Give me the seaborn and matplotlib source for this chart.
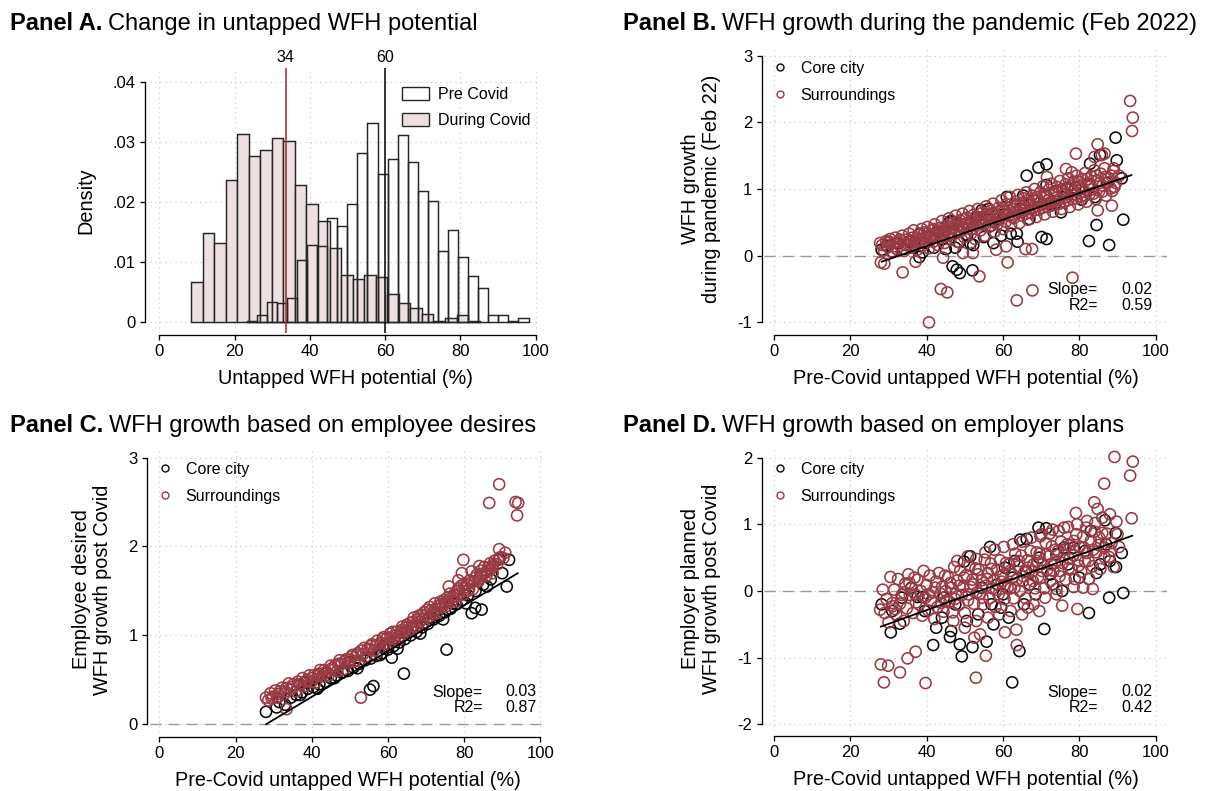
import numpy as np
import pandas as pd
import matplotlib
matplotlib.use("Agg")
import matplotlib.pyplot as plt
import seaborn as sns
from matplotlib.patches import Patch
from matplotlib.lines import Line2D

# ---------------- DATA ----------------
# Panel A: histogram bins (density)
during_start = 8.42
during_width = 3.068
during_heights = [0.0067, 0.0148, 0.0132, 0.0237, 0.0314, 0.0277, 0.0286, 0.0306, 0.0302,
                  0.0228, 0.0196, 0.0168, 0.0124, 0.0079, 0.0071, 0.0079, 0.0075, 0.0047,
                  0.0031, 0.0023, 0.0014, 0.0001, 0.0006, 0.0011, 0.0002]
pre_start = 23.2
pre_width = 2.675
pre_heights = [0.0001, 0.0011, 0.0034, 0.0031, 0.0040, 0.0104, 0.0128, 0.0126, 0.0173,
               0.0160, 0.0197, 0.0281, 0.0332, 0.0247, 0.0271, 0.0312, 0.0266, 0.0219,
               0.0201, 0.0118, 0.0154, 0.0108, 0.0076, 0.0057, 0.0011, 0.0011, 0.0001, 0.0007]
median_during = 33.6
median_pre = 60.0
median_labels = ["34", "60"]
hist_labels = ["Pre Covid", "During Covid"]

group_labels = ["Core city", "Surroundings"]

# Panel B: WFH growth during pandemic (Feb 22)
b_core = [(28.2,0.09),(29.5,0.15),(31.0,0.06),(32.5,0.18),(34.0,0.10),(35.3,0.21),(36.8,0.14),
          (38.1,-0.02),(38.9,0.05),(38.2,0.33),(39.6,0.19),(40.8,0.27),(41.9,0.12),(43.0,0.36),
          (44.2,0.25),(45.0,0.10),(45.7,0.49),(46.3,0.52),(46.9,0.51),(46.8,-0.16),(47.9,-0.21),
          (48.7,-0.26),(47.5,0.12),(48.5,0.20),(49.5,0.42),(50.6,0.31),(51.5,0.18),(52.0,-0.22),
          (52.2,0.16),(53.2,0.58),(54.4,0.68),(55.0,0.28),(56.2,0.70),(56.8,0.45),(57.5,0.19),
          (58.4,0.55),(59.5,0.30),(60.2,0.62),(61.0,0.88),(62.0,0.33),(63.6,0.33),(63.8,0.21),
          (64.5,0.70),(65.3,0.90),(66.2,1.20),(66.9,0.55),(68.0,0.83),(69.3,1.32),(70.1,0.28),
          (71.4,0.25),(71.4,1.37),(71.4,1.06),(72.6,0.78),(73.9,0.97),(75.2,0.65),(76.8,1.02),
          (78.9,1.02),(80.6,0.84),(82.4,1.06),(82.5,0.22),(82.8,1.38),(84.1,0.88),(84.5,0.46),
          (85.4,1.51),(87.2,1.09),(87.8,0.16),(89.5,1.77),(89.8,1.43),(91.1,1.16),(91.5,0.54)]
b_sur = [(28.3,0.16),(28.8,0.08),(29.4,0.22),(29.9,0.13),(30.4,0.25),(30.7,0.06),(31.3,0.19),
         (31.8,0.27),(32.2,0.10),(32.7,0.21),(33.2,0.15),(33.6,0.30),(34.1,0.07),(34.5,0.24),
         (35.0,0.18),(35.4,0.33),(35.9,0.12),(36.3,0.27),(36.6,0.38),(37.0,0.20),(37.5,0.09),
         (37.8,0.31),(38.3,0.24),(38.7,0.40),(39.0,0.15),(39.5,0.35),(39.8,0.28),(40.2,0.43),
         (40.6,0.11),(41.0,0.30),(41.4,0.38),(41.7,0.21),(42.1,0.47),(42.5,0.33),(42.9,0.16),
         (43.2,0.41),(43.6,0.27),(44.0,0.52),(44.3,0.36),(44.7,0.19),(45.1,0.45),(45.4,0.30),
         (45.8,0.56),(46.2,0.24),(46.5,0.40),(46.9,0.49),(47.3,0.33),(47.6,0.60),(48.0,0.21),
         (48.3,0.44),(48.7,0.53),(49.0,0.37),(49.4,0.63),(49.8,0.28),(50.1,0.48),(50.5,0.57),
         (50.8,0.41),(51.2,0.67),(51.6,0.33),(51.9,0.51),(52.3,0.61),(52.7,0.25),(53.0,0.45),
         (53.4,0.70),(53.8,0.55),(54.1,0.38),(54.5,0.64),(54.8,0.49),(55.2,0.30),(55.6,0.74),
         (55.9,0.58),(56.3,0.43),(56.7,0.67),(57.0,0.52),(57.4,0.78),(57.8,0.36),(58.1,0.61),
         (58.5,0.47),(58.9,0.72),(59.2,0.56),(59.6,0.83),(60.0,0.40),(60.3,0.66),(60.7,0.51),
         (61.0,0.77),(61.4,0.60),(61.8,0.88),(62.1,0.45),(62.5,0.70),(62.8,0.56),(63.2,0.81),
         (63.6,0.64),(63.9,0.91),(64.3,0.49),(64.6,0.74),(65.0,0.60),(65.4,0.86),(65.7,0.68),
         (66.1,0.95),(66.5,0.54),(66.8,0.79),(67.2,0.64),(67.6,0.90),(67.9,0.72),(68.3,1.00),
         (68.7,0.58),(69.0,0.83),(69.4,0.69),(69.8,0.95),(70.1,0.76),(70.5,1.04),(70.9,0.62),
         (71.2,0.88),(71.6,0.73),(72.0,0.99),(72.3,0.80),(72.7,1.08),(73.1,0.66),(73.4,0.92),
         (73.8,0.77),(74.2,1.03),(74.5,0.84),(74.9,1.12),(75.3,0.70),(75.6,0.96),(76.0,0.81),
         (76.4,1.07),(76.7,0.88),(77.1,1.16),(77.5,0.73),(77.8,1.00),(78.2,0.85),(78.6,1.11),
         (78.9,0.92),(79.3,1.20),(79.7,0.77),(80.0,1.04),(80.4,0.89),(80.8,1.15),(81.1,0.96),
         (81.5,1.24),(81.9,0.81),(82.3,1.08),(82.7,0.93),(83.1,1.19),(83.5,1.00),(83.9,1.28),
         (84.3,0.85),(84.7,1.12),(85.2,0.97),(85.6,1.23),(86.1,1.05),(86.6,1.31),(87.0,0.90),
         (87.6,1.16),(88.2,1.01),(88.9,1.27),(89.6,1.09),(90.4,1.20),
         (27.8,0.19),(28.0,-0.10),(28.9,-0.12),(29.9,0.19),(33.7,-0.25),(37.1,-0.09),(40.6,-1.00),
         (43.7,-0.50),(45.4,-0.55),(44.3,-0.03),(49.5,0.04),(52.1,0.04),(53.8,-0.31),(58.2,0.09),
         (60.8,0.14),(61.2,-0.10),(63.6,-0.67),(65.9,0.10),(67.6,0.10),(67.7,-0.52),(78.2,-0.33),
         (79.1,1.53),(84.0,1.48),(84.8,1.67),(84.8,0.68),(85.9,1.51),(86.6,1.53),(88.5,0.75),
         (88.6,0.97),(89.2,1.03),(89.0,1.31),(76.5,1.30),(78.0,1.25),(71.5,1.18),(93.3,2.32),
         (94.0,2.07),(93.8,1.87)]
b_sur_more = [(38.0,0.19),(39.3,0.26),(40.0,0.33),(41.0,0.24),(41.8,0.40),(42.6,0.29),(43.4,0.35),
              (44.1,0.30),(44.9,0.38),(45.6,0.43),(46.3,0.34),(47.0,0.42),(47.8,0.50),(48.5,0.38),
              (49.2,0.47),(49.9,0.55),(50.6,0.45),(51.4,0.52),(52.0,0.40),(52.8,0.58),(53.6,0.50),
              (54.3,0.57),(55.0,0.47),(55.7,0.62),(56.5,0.55),(57.2,0.63),(57.9,0.50),(58.7,0.66),
              (59.4,0.58),(60.1,0.71),(60.9,0.62),(61.6,0.68),(62.4,0.58),(63.1,0.75),(63.8,0.67),
              (64.6,0.79),(65.3,0.70),(66.0,0.63),(66.7,0.84),(67.5,0.76),(68.2,0.68),(68.9,0.88),
              (69.7,0.80),(70.4,0.72),(71.1,0.92),(71.9,0.83),(72.6,0.75),(73.3,0.96),(74.1,0.87),
              (74.8,0.78),(75.5,1.00),(76.3,0.92),(77.0,0.83),(77.7,1.05),(78.5,0.97),(79.2,0.86),
              (80.0,1.10),(80.7,1.01),(81.5,0.90),(82.2,1.15),(83.0,1.05),(83.7,0.93),(84.5,1.20),
              (85.3,1.09),(86.0,0.96),(86.8,1.18),(87.6,1.10),(88.4,1.20),(30.0,0.21),(31.5,0.14),
              (33.0,0.24),(34.6,0.16),(36.1,0.22),(37.3,0.17)]
b_fit_x = [28.2, 93.7]
b_fit_y = [-0.09, 1.21]
b_stats = ["0.02", "0.59"]

# Panel C: employee desired WFH growth post Covid
c_core = [(28.0,0.14),(30.8,0.19),(31.5,0.25),(33.0,0.22),(34.5,0.30),(36.0,0.33),(37.5,0.36),
          (38.0,0.47),(39.0,0.40),(40.5,0.42),(42.0,0.45),(43.5,0.48),(44.0,0.58),(45.0,0.52),
          (46.5,0.55),(48.0,0.58),(49.5,0.60),(50.0,0.70),(51.0,0.64),(52.5,0.68),(54.0,0.72),
          (55.3,0.39),(56.2,0.43),(55.5,0.74),(57.0,0.77),(58.5,0.80),(59.0,0.88),(60.0,0.84),
          (61.5,0.88),(61.0,0.75),(63.0,0.92),(64.2,0.57),(64.5,0.96),(65.0,1.05),(66.0,1.00),
          (67.5,1.04),(69.0,1.09),(70.5,1.13),(71.0,1.20),(72.0,1.18),(73.5,1.22),(75.0,1.26),
          (75.4,0.84),(76.5,1.30),(77.0,1.36),(78.0,1.35),(79.5,1.40),(81.0,1.45),(82.0,1.25),
          (82.9,1.31),(84.6,1.29),(83.0,1.50),(85.0,1.57),(87.0,1.63),(89.2,1.86),(91.8,1.85),
          (91.2,1.55),(90.0,1.70),(46.0,0.52),(52.0,0.63),(58.0,0.78),(62.5,0.85),(68.5,1.02),
          (74.5,1.18),(80.5,1.36),(86.0,1.55),(37.0,0.33),(41.5,0.40)]
c_sur = [(28.0,0.30),(28.6,0.27),(29.2,0.35),(29.8,0.31),(30.4,0.38),(31.0,0.30),(31.6,0.37),
         (32.2,0.41),(32.8,0.34),(33.4,0.17),(33.4,0.41),(34.0,0.46),(34.6,0.39),(35.2,0.45),
         (35.8,0.37),(36.4,0.48),(37.0,0.44),(37.6,0.52),(38.2,0.43),(38.8,0.50),(39.4,0.55),
         (40.0,0.48),(40.5,0.55),(41.0,0.47),(41.6,0.55),(42.2,0.61),(42.7,0.54),(43.3,0.61),
         (43.9,0.59),(44.4,0.55),(45.0,0.66),(45.6,0.61),(46.1,0.66),(46.7,0.60),(47.3,0.72),
         (47.8,0.68),(48.4,0.62),(49.0,0.73),(49.5,0.69),(50.1,0.73),(50.7,0.78),(51.2,0.71),
         (51.8,0.78),(52.4,0.71),(52.9,0.30),(53.0,0.83),(53.5,0.79),(54.1,0.76),(54.7,0.85),
         (55.2,0.84),(55.8,0.90),(56.4,0.83),(56.9,0.89),(57.5,0.82),(58.1,0.91),(58.6,0.96),
         (59.2,0.91),(59.8,0.97),(60.3,0.90),(60.8,0.98),(61.3,1.04),(61.8,0.96),(62.3,1.04),
         (62.8,0.95),(63.3,1.03),(63.8,1.10),(64.3,1.04),(64.8,1.09),(65.3,1.04),(65.8,1.14),
         (66.3,1.10),(66.8,1.20),(67.3,1.10),(67.8,1.18),(68.3,1.15),(68.8,1.23),(69.3,1.14),
         (69.8,1.22),(70.3,1.29),(70.8,1.21),(71.3,1.28),(71.8,1.26),(72.3,1.36),(72.8,1.25),
         (73.3,1.33),(73.8,1.38),(74.3,1.32),(74.8,1.40),(75.3,1.33),(75.8,1.39),(76.3,1.47),
         (76.8,1.39),(77.3,1.46),(77.8,1.38),(78.3,1.50),(78.8,1.47),(79.3,1.56),(79.8,1.46),
         (80.3,1.54),(80.8,1.58),(81.3,1.52),(81.8,1.59),(82.3,1.52),(82.8,1.61),(83.3,1.68),
         (83.8,1.61),(84.3,1.69),(84.8,1.67),(85.3,1.77),(85.8,1.67),(86.3,1.76),(86.8,1.81),
         (87.4,1.77),(88.0,1.84),(88.7,1.80),(89.5,1.88),(90.3,1.87),
         (89.2,2.70),(86.6,2.49),(93.5,2.50),(94.2,2.49),(93.9,2.35),(89.2,1.97),(79.8,1.85),
         (79.4,1.70),(78.5,1.62),(82.0,1.72),(76.0,1.55),(84.0,1.78),(87.5,1.70)]
c_sur_more = [(29.5,0.29),(31.3,0.34),(33.0,0.37),(34.9,0.42),(36.7,0.45),(38.5,0.48),(40.2,0.52),
              (42.0,0.57),(43.6,0.58),(45.3,0.63),(47.0,0.68),(48.7,0.71),(50.4,0.76),(52.1,0.80),
              (53.8,0.86),(55.5,0.88),(57.2,0.94),(58.9,0.98),(60.6,1.02),(62.0,1.00),(63.6,1.06),
              (65.0,1.12),(66.5,1.15),(68.0,1.22),(69.5,1.26),(71.0,1.32),(72.5,1.30),(74.0,1.35),
              (75.5,1.42),(77.0,1.43),(78.5,1.53),(80.0,1.57),(81.5,1.62),(83.0,1.65),(84.5,1.73),
              (86.0,1.72),(87.5,1.79),(89.0,1.85),(90.8,1.93),(61.5,0.93),(63.0,0.99),(66.0,1.07),
              (69.0,1.18),(72.0,1.24),(75.0,1.36),(78.0,1.44),(81.0,1.50),(84.0,1.64),(87.0,1.74)]
c_fit_x = [28.0, 94.1]
c_fit_y = [0.0, 1.70]
c_stats = ["0.03", "0.87"]

# Panel D: employer planned WFH growth post Covid
d_core = [(28.2,-0.20),(30.6,-0.62),(33.0,-0.49),(31.0,-0.30),(33.5,-0.10),(36.0,0.05),
          (37.6,-0.09),(38.9,-0.09),(39.5,-0.30),(41.7,-0.81),(42.5,-0.55),(44.0,-0.40),
          (46.1,-0.69),(46.4,-0.60),(49.2,-0.98),(48.7,-0.80),(47.5,-0.20),(49.8,0.44),
          (51.4,0.52),(52.0,-0.84),(53.5,-0.35),(55.7,-0.76),(56.6,0.66),(57.5,-0.50),
          (58.5,0.10),(59.5,-0.25),(60.5,0.35),(61.5,-0.40),(62.4,-1.37),(62.5,0.20),
          (64.3,-0.90),(64.5,0.77),(66.2,0.78),(65.5,-0.20),(67.0,0.10),(68.5,-0.05),
          (69.3,0.95),(71.3,0.94),(70.8,-0.57),(72.5,0.25),(74.0,0.55),(75.5,0.00),
          (77.0,0.40),(78.5,0.65),(80.0,0.20),(81.5,0.60),(82.5,-0.33),(83.0,0.90),
          (84.5,0.27),(86.7,1.06),(87.8,-0.10),(88.0,0.45),(89.5,0.87),(89.6,0.36),
          (91.1,0.57),(91.5,-0.03),(87.0,0.70),(85.5,0.40),(44.5,-0.10),(50.5,-0.45),
          (54.5,0.05),(57.0,-0.20),(60.0,-0.05),(63.0,0.45),(66.0,0.30),(69.5,0.50),
          (73.0,0.10),(76.0,0.65)]
d_sur = [(28.5,0.02),(29.0,-0.33),(29.5,-0.12),(30.0,-0.47),(30.5,0.21),(31.0,-0.18),(31.5,0.02),
         (32.0,-0.35),(32.5,0.18),(33.0,-0.19),(33.5,-0.06),(34.0,-0.45),(34.4,0.11),(34.8,-0.26),
         (35.2,0.25),(35.6,-0.06),(36.0,0.04),(36.4,-0.33),(36.8,0.20),(37.2,-0.17),(37.6,0.17),
         (38.0,-0.20),(38.4,0.00),(38.8,-0.37),(39.2,0.30),(39.6,-0.10),(40.0,0.09),(40.4,-0.29),
         (40.8,0.23),(41.2,-0.15),(41.6,-0.02),(42.0,-0.42),(42.4,0.14),(42.8,-0.24),(43.2,0.27),
         (43.6,-0.04),(44.0,0.06),(44.4,-0.31),(44.8,0.23),(45.2,-0.14),(45.6,0.21),(46.0,-0.16),
         (46.4,0.05),(46.8,-0.32),(47.2,0.36),(47.6,-0.04),(48.0,0.16),(48.4,-0.21),(48.8,0.31),
         (49.2,-0.06),(49.6,0.06),(50.0,-0.33),(50.4,0.24),(50.8,-0.14),(51.2,0.38),(51.6,0.06),
         (52.0,0.17),(52.4,-0.19),(52.8,0.34),(53.2,-0.02),(53.6,0.32),(54.0,-0.04),(54.4,0.16),
         (54.8,-0.20),(55.2,0.47),(55.6,0.08),(56.0,0.27),(56.4,-0.11),(56.8,0.41),(57.2,0.04),
         (57.6,0.16),(58.0,-0.24),(58.4,0.32),(58.8,-0.05),(59.2,0.46),(59.6,0.14),(60.0,0.24),
         (60.4,-0.12),(60.8,0.42),(61.2,0.05),(61.6,0.40),(62.0,0.04),(62.4,0.25),(62.8,-0.11),
         (63.2,0.56),(63.6,0.17),(64.0,0.37),(64.4,0.00),(64.8,0.53),(65.2,0.15),(65.6,0.28),
         (66.0,-0.11),(66.4,0.46),(66.8,0.09),(67.2,0.60),(67.6,0.29),(68.0,0.40),(68.4,0.04),
         (68.8,0.58),(69.2,0.21),(69.6,0.56),(70.0,0.20),(70.4,0.41),(70.8,0.04),(71.2,0.72),
         (71.6,0.32),(72.0,0.52),(72.4,0.15),(72.8,0.67),(73.2,0.30),(73.6,0.42),(74.0,0.03),
         (74.4,0.60),(74.8,0.22),(75.2,0.74),(75.6,0.42),(76.0,0.53),(76.4,0.17),(76.8,0.70),
         (77.2,0.34),(77.6,0.69),(78.0,0.33),(78.4,0.54),(78.8,0.18),(79.2,0.85),(79.6,0.46),
         (80.0,0.66),(80.5,0.29),(81.0,0.82),(81.5,0.44),(82.0,0.57),(82.5,0.18),(83.0,0.75),
         (83.5,0.37),(84.0,0.89),(84.5,0.58),(85.0,0.69),(85.5,0.33),(86.0,0.87),(86.6,0.51),
         (87.2,0.86),(87.8,0.51),(88.4,0.72),(89.0,0.36),(89.7,1.04),(90.4,0.66),
         (89.2,2.01),(94.0,1.94),(93.3,1.73),(86.5,1.61),(93.7,1.09),(83.9,1.33),(84.8,1.23),
         (79.1,1.17),(28.0,-1.10),(29.9,-1.12),(28.8,-1.37),(33.0,-1.22),(35.0,-1.01),
         (37.1,-0.91),(39.7,-1.38),(52.9,-1.30),(55.5,-0.97),(63.6,-0.81),(27.8,-0.28),
         (31.0,-0.23),(31.7,-0.27),(82.0,1.05),(86.0,1.10),(88.0,1.15),(76.0,0.95),(73.0,0.92),
         (70.0,0.85),(90.0,0.85),(78.5,0.06),(81.0,0.05),(83.5,0.03),(82.5,0.18),(66.5,-0.25),
         (69.5,-0.30),(75.5,-0.22),(79.5,-0.27),(52.5,-0.70),(54.0,-0.65),(60.5,-0.62),(63.5,-0.58)]
d_sur_more = [(45.0,0.00),(46.2,0.12),(47.4,-0.12),(48.6,0.08),(49.8,0.20),(51.0,-0.05),(52.2,0.10),
              (53.4,0.25),(54.6,-0.10),(55.8,0.18),(57.0,0.33),(58.2,0.02),(59.4,0.22),(60.6,0.10),
              (61.8,0.30),(63.0,0.05),(64.2,0.45),(65.4,0.22),(66.6,0.35),(67.8,0.15),(69.0,0.45),
              (70.2,0.30),(71.4,0.55),(72.6,0.40),(73.8,0.62),(75.0,0.30),(76.2,0.62),(77.4,0.48),
              (78.6,0.75),(79.8,0.38),(81.2,0.65),(82.4,0.45),(83.6,0.62),(85.2,0.80),(86.5,0.65),
              (88.2,0.60),(40.5,-0.05),(42.2,0.05),(43.8,-0.18),(37.0,-0.05),(35.5,0.12),(34.0,-0.02),
              (48.0,0.45),(50.8,0.52),(53.0,0.48),(55.4,0.58),(57.8,0.62),(60.2,0.66),(62.6,0.70),
              (65.0,0.74),(67.4,0.80),(69.8,0.82),(72.2,0.86),(74.6,0.90),(77.0,0.96),(79.4,1.00),
              (81.8,0.95),(84.2,1.02),(47.0,-0.45),(50.0,-0.55),(53.0,-0.45),(56.0,-0.40),
              (59.0,-0.35),(62.0,-0.30),(65.0,-0.35),(68.0,-0.20),(71.0,-0.10),(74.0,-0.05)]
d_fit_x = [27.95, 93.9]
d_fit_y = [-0.535, 0.83]
d_stats = ["0.02", "0.42"]

# ---------------- STYLE ----------------
sns.set_theme(style="ticks")
plt.rcParams['font.family'] = ['Liberation Sans', 'DejaVu Sans']
plt.rcParams['axes.unicode_minus'] = False
plt.rcParams['text.color'] = 'black'
plt.rcParams['axes.labelcolor'] = 'black'
plt.rcParams['xtick.color'] = 'black'
plt.rcParams['ytick.color'] = 'black'

W, H = 1207, 791
MAROON = '#9a3a42'
CORE = '#0a0a0a'
PINK = '#eedfe0'
EDGE = '#262626'
REDLINE = '#a3262e'
GRID = '#c4c4c4'
TICK_FS = 12
LAB_FS = 14.3
LEG_FS = 11.5
TITLE_FS = 17.0
MS = 64

fig = plt.figure(figsize=(W / 100, H / 100), dpi=100)


def make_axes(box, xmap, ymap, left_spine, bottom_spine, xticks, yticks):
    l, t, r, b = box
    ax = fig.add_axes([l / W, 1 - b / H, (r - l) / W, (b - t) / H])
    x0, xpu = xmap
    y0, ypu = ymap
    ax.set_xlim((l - x0) / xpu, (r - x0) / xpu)
    ax.set_ylim((y0 - b) / ypu, (y0 - t) / ypu)
    ax.set_xticks(xticks)
    ax.set_yticks(yticks)
    for s in ['top', 'right']:
        ax.spines[s].set_visible(False)
    ax.spines['left'].set_position(('outward', (l - left_spine) * 0.72))
    ax.spines['bottom'].set_position(('outward', (bottom_spine - b) * 0.72))
    ax.spines['left'].set_bounds(yticks[0], yticks[-1])
    ax.spines['bottom'].set_bounds(xticks[0], xticks[-1])
    for s in ['left', 'bottom']:
        ax.spines[s].set_linewidth(0.95)
        ax.spines[s].set_color('black')
    ax.tick_params(direction='out', length=3.8, width=0.95, labelsize=TICK_FS, pad=3,
                   colors='black', left=True, bottom=True)
    ax.grid(True, linestyle=(0, (1, 3.5)), color=GRID, linewidth=0.8)
    ax.set_axisbelow(True)
    return ax


def panel_title(xpx, ypx, bold, rest):
    t = fig.text(xpx / W, 1 - ypx / H, bold, fontsize=TITLE_FS, fontweight='bold',
                 va='baseline', ha='left')
    fig.canvas.draw()
    bb = t.get_window_extent(renderer=fig.canvas.get_renderer())
    fig.text((bb.x1 + 6) / W, 1 - ypx / H, rest, fontsize=TITLE_FS,
             va='baseline', ha='left')


xt = [0, 20, 40, 60, 80, 100]

# ---------------- PANEL A ----------------
axA = make_axes((150, 68, 541, 333), (159.3, 3.764), (322, 6000), 145, 335,
                xt, [0, 0.01, 0.02, 0.03, 0.04])
dur_edges = [float(v) for v in during_start + during_width * np.arange(len(during_heights) + 1)]
pre_edges = [float(v) for v in pre_start + pre_width * np.arange(len(pre_heights) + 1)]
dur_df = pd.DataFrame({"x": [(a + b) / 2 for a, b in zip(dur_edges[:-1], dur_edges[1:])],
                       "w": during_heights})
pre_df = pd.DataFrame({"x": [(a + b) / 2 for a, b in zip(pre_edges[:-1], pre_edges[1:])],
                       "w": pre_heights})
sns.histplot(data=dur_df, x="x", weights="w", bins=dur_edges, stat="count", ax=axA,
             color=PINK, alpha=1, edgecolor=EDGE, linewidth=1.05)
sns.histplot(data=pre_df, x="x", weights="w", bins=pre_edges, stat="count", ax=axA,
             fill=False, color=EDGE, linewidth=1.05)
axA.set_xlim((150 - 159.3) / 3.764, (541 - 159.3) / 3.764)
axA.set_ylim((322 - 333) / 6000, (322 - 68) / 6000)
axA.axvline(median_during, color=REDLINE, lw=1.1, zorder=5)
axA.axvline(median_pre, color='black', lw=1.1, zorder=5)
trA = axA.get_xaxis_transform()
ytop = (333 - 57) / (333 - 68)
axA.text(median_during, ytop, median_labels[0], transform=trA, ha='center', va='center',
         fontsize=LEG_FS)
axA.text(median_pre, ytop, median_labels[1], transform=trA, ha='center', va='center',
         fontsize=LEG_FS)
axA.set_yticks([0, 0.01, 0.02, 0.03, 0.04])
axA.set_yticklabels(['0', '.01', '.02', '.03', '.04'])
axA.set_xlabel("Untapped WFH potential (%)", fontsize=LAB_FS, labelpad=7)
axA.set_ylabel("Density", fontsize=LAB_FS, labelpad=12)
hA = [Patch(facecolor='white', edgecolor=EDGE, linewidth=1.0),
      Patch(facecolor=PINK, edgecolor=EDGE, linewidth=1.0)]
axA.legend(hA, hist_labels, loc='upper left', bbox_to_anchor=(402 / W, 1 - 87 / H),
           bbox_transform=fig.transFigure, frameon=False, fontsize=LEG_FS,
           handlelength=1.7, handleheight=0.9, handletextpad=0.55, labelspacing=0.68,
           borderpad=0, borderaxespad=0)


# ---------------- SCATTER PANELS ----------------
def scatter_panel(box, xmap, ymap, left_spine, bottom_spine, yticks, core, sur, fx, fy,
                  stats, ylabel, ypad, leg_xy, stat_px):
    ax = make_axes(box, xmap, ymap, left_spine, bottom_spine, xt, yticks)
    ax.axhline(0, color='#9a9a9a', lw=1.0, ls=(0, (8, 5)), zorder=2)
    cx, cy = zip(*core)
    sx, sy = zip(*sur)
    sns.scatterplot(x=list(cx), y=list(cy), ax=ax, marker='o', s=MS, color=CORE,
                    edgecolor=CORE, facecolor='none', linewidth=1.15, zorder=3)
    sns.scatterplot(x=list(sx), y=list(sy), ax=ax, marker='o', s=MS, color=MAROON,
                    edgecolor=MAROON, facecolor='none', linewidth=1.15, zorder=3)
    sns.lineplot(x=fx, y=fy, ax=ax, color='black', lw=1.3, zorder=4)
    l, t, r, b = box
    x0, xpu = xmap
    y0, ypu = ymap
    ax.set_xlim((l - x0) / xpu, (r - x0) / xpu)
    ax.set_ylim((y0 - b) / ypu, (y0 - t) / ypu)
    ax.set_xlabel("Pre-Covid untapped WFH potential (%)", fontsize=LAB_FS, labelpad=7)
    ax.set_ylabel(ylabel, fontsize=LAB_FS, labelpad=ypad, linespacing=1.12)
    hs = [Line2D([0], [0], marker='o', ls='none', mfc='none', mec=CORE, ms=5, mew=1.0),
          Line2D([0], [0], marker='o', ls='none', mfc='none', mec=MAROON, ms=5, mew=1.0)]
    ax.legend(hs, group_labels, loc='upper left', bbox_to_anchor=(leg_xy[0] / W, 1 - leg_xy[1] / H),
              bbox_transform=fig.transFigure, frameon=False, fontsize=LEG_FS,
              handlelength=1.0, handletextpad=0.8, labelspacing=0.75, borderpad=0,
              borderaxespad=0)
    lx, vx, sy1, sy2 = stat_px
    fig.text(lx / W, 1 - sy1 / H, "Slope=", ha='right', va='center', fontsize=LEG_FS)
    fig.text(vx / W, 1 - sy1 / H, stats[0], ha='right', va='center', fontsize=LEG_FS)
    fig.text(lx / W, 1 - sy2 / H, "R2=", ha='right', va='center', fontsize=LEG_FS)
    fig.text(vx / W, 1 - sy2 / H, stats[1], ha='right', va='center', fontsize=LEG_FS)
    return ax


scatter_panel((764, 46, 1167, 331), (774, 3.817), (255.7, 66.7), 761.7, 335,
              [-1, 0, 1, 2, 3], b_core, b_sur + b_sur_more, b_fit_x, b_fit_y, b_stats,
              "WFH growth\nduring pandemic (Feb 22)", 12, (772, 61), (1098, 1152, 290, 305.5))
scatter_panel((150, 447, 545, 732), (159.3, 3.81), (724.3, 88.9), 147, 736.7,
              [0, 1, 2, 3], c_core, c_sur + c_sur_more, c_fit_x, c_fit_y, c_stats,
              "Employee desired\nWFH growth post Covid", 12, (157, 462), (483, 537, 692, 707.7))
scatter_panel((764, 446, 1167, 731), (774, 3.817), (591, 66.7), 761.7, 736,
              [-2, -1, 0, 1, 2], d_core, d_sur + d_sur_more, d_fit_x, d_fit_y, d_stats,
              "Employer planned\nWFH growth post Covid", 12, (772, 462), (1098, 1152, 692, 708))

# ---------------- TITLES ----------------
panel_title(10, 30, "Panel A.", "Change in untapped WFH potential")
panel_title(623, 30, "Panel B.", "WFH growth during the pandemic (Feb 2022)")
panel_title(10, 432, "Panel C.", "WFH growth based on employee desires")
panel_title(623, 432, "Panel D.", "WFH growth based on employer plans")

fig.savefig("out.png", dpi=100)
